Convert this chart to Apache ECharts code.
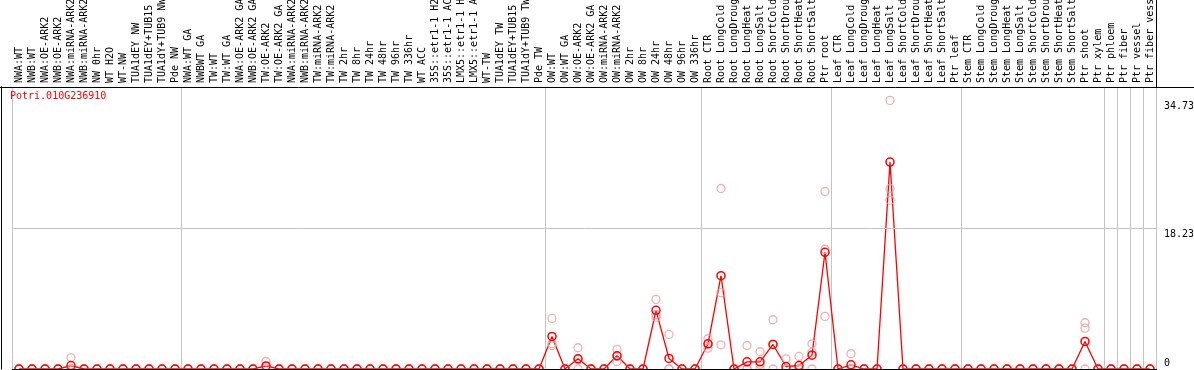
<!DOCTYPE html>
<html>
<head>
<meta charset="utf-8">
<script src="https://cdn.jsdelivr.net/npm/echarts@6/dist/echarts.min.js"></script>
<style>
  html, body { margin: 0; padding: 0; background: #fff; }
  #chart { width: 1194px; height: 370px; }
</style>
</head>
<body>
<div id="chart"></div>
<script>
// sample labels, one array per block of the plot (a separator line starts each block)
const nwLabels = ['NWA:WT', 'NWB:WT', 'NWA:OE-ARK2', 'NWB:OE-ARK2', 'NWA:miRNA-ARK2', 'NWB:miRNA-ARK2',
  'NW 0hr', 'WT H2O', 'WT-NW', 'TUA1dEY NW', 'TUA1dEY+TUB15 NW', 'TUA1dY+TUB9 NW', 'Pde NW']
const twLabels = ['NWA:WT GA', 'NWBWT GA', 'TW:WT', 'TW:WT GA', 'NWA:OE-ARK2 GA', 'NWB:OE-ARK2 GA',
  'TW:OE-ARK2', 'TW:OE-ARK2 GA', 'NWA:miRNA-ARK2', 'NWB:miRNA-ARK2', 'TW:miRNA-ARK2', 'TW:miRNA-ARK2',
  'TW 2hr', 'TW 8hr', 'TW 24hr', 'TW 48hr', 'TW 96hr', 'TW 336hr', 'WT ACC',
  '35S::etr1-1 H2', '35S::etr1-1 AC', 'LMX5::etr1-1 H', 'LMX5::etr1-1 A',
  'WT-TW', 'TUA1dEY TW', 'TUA1dEY+TUB15 TW', 'TUA1dY+TUB9 TW', 'Pde TW']
const owLabels = ['OW:WT', 'OW:WT GA', 'OW:OE-ARK2', 'OW:OE-ARK2 GA', 'OW:miRNA-ARK2', 'OW:miRNA-ARK2',
  'OW 2hr', 'OW 8hr', 'OW 24hr', 'OW 48hr', 'OW 96hr', 'OW 336hr']
const rootLabels = ['Root CTR', 'Root LongCold', 'Root LongDroug', 'Root LongHeat', 'Root LongSalt',
  'Root ShortCold', 'Root ShortDrou', 'Root ShortHeat', 'Root ShortSalt', 'Ptr root']
const leafLabels = ['Leaf CTR', 'Leaf LongCold', 'Leaf LongDroug', 'Leaf LongHeat', 'Leaf LongSalt',
  'Leaf ShortCold', 'Leaf ShortDrou', 'Leaf ShortHeat', 'Leaf ShortSalt', 'Ptr leaf']
const stemLabels = ['Stem CTR', 'Stem LongCold', 'Stem LongDroug', 'Stem LongHeat', 'Stem LongSalt',
  'Stem ShortCold', 'Stem ShortDrou', 'Stem ShortHeat', 'Stem ShortSalt', 'Ptr shoot', 'Ptr xylem']
const tissueLabels = [['Ptr phloem'], ['Ptr fiber'], ['Ptr vessel'], ['Ptr fiber vess']]

const geneId = 'Potri.010G236910'

// mean expression per sample
const meanExpr = [
  0, 0, 0, 0, 0.45, 0, 0, 0, 0, 0, 0, 0, 0,
  0, 0, 0, 0, 0, 0, 0.4, 0, 0, 0, 0, 0, 0, 0, 0, 0, 0, 0, 0, 0, 0, 0, 0, 0, 0, 0, 0, 0,
  4.21, 0, 1.32, 0, 0, 1.71, 0, 0, 7.58, 1.36, 0, 0,
  3.26, 12.07, 0, 0.93, 0.93, 3.17, 0.32, 0.45, 1.79, 15.09,
  0, 0.54, 0, 0, 26.75, 0, 0, 0, 0, 0,
  0, 0, 0, 0, 0, 0, 0, 0, 0, 3.56, 0,
  0, 0, 0, 0
]

// single replicates (pale circles)
const rep1 = [
  0, 0, 0, 0, 1.45, 0, 0, 0, 0, 0, 0, 0, 0,
  0, 0, 0, 0, 0, 0, 0.97, 0, 0, 0, 0, 0, 0, 0, 0, 0, 0, 0, 0, 0, 0, 0, 0, 0, 0, 0, 0, 0,
  6.54, 0, 2.75, 0, 0, 2.53, 0, 0, 9.0, 4.47, 0, 0,
  3.91, 23.34, 0, 3.04, 2.23, 6.37, 1.32, 1.62, 3.26, 22.95,
  0, 1.97, 0, 0, 34.73, 0, 0, 0, 0, 0,
  0, 0, 0, 0, 0, 0, 0, 0, 0, 5.98, 0,
  0, 0, 0, 0
]
const rep2 = [
  0, 0, 0, 0, 0, 0, 0, 0, 0, 0, 0, 0, 0,
  0, 0, 0, 0, 0, 0, 0.3, 0, 0, 0, 0, 0, 0, 0, 0, 0, 0, 0, 0, 0, 0, 0, 0, 0, 0, 0, 0, 0,
  3.26, 0, 1.2, 0, 0, 0.97, 0, 0, 7.02, 0, 0, 0,
  3.2, 9.87, 0, 0, 0.6, 3.2, 0, 0, 2.18, 15.48,
  0, 0, 0, 0, 23.34, 0, 0, 0, 0, 0,
  0, 0, 0, 0, 0, 0, 0, 0, 0, 5.28, 0,
  0, 0, 0, 0
]
const rep3 = [
  0, 0, 0, 0, 0, 0, 0, 0, 0, 0, 0, 0, 0,
  0, 0, 0, 0, 0, 0, 0, 0, 0, 0, 0, 0, 0, 0, 0, 0, 0, 0, 0, 0, 0, 0, 0, 0, 0, 0, 0, 0,
  3.04, 0, 0, 0, 0, 1.65, 0, 0, 6.7, 0, 0, 0,
  2.69, 3.13, 0, 0, 0, 0, 0, 0, 0, 6.8,
  0, 0, 0, 0, 21.83, 0, 0, 0, 0, 0,
  0, 0, 0, 0, 0, 0, 0, 0, 0, 0, 0,
  0, 0, 0, 0
]

// value axis
const yMax = 36.46
const yTicks = [0, 18.23, 34.73]
const yGrid = [18.23]

const FONT = 'DejaVu Sans Mono'
const SEP = '#c4c4c4'

const labelGroups = [nwLabels, twLabels, owLabels, rootLabels, leafLabels, stemLabels, ...tissueLabels]
const categories = labelGroups.flat()
const groupStarts = []
let acc = 0
labelGroups.forEach(g => { groupStarts.push(acc); acc += g.length })
const isGroupStart = (i) => groupStarts.indexOf(i) !== -1

const repPoints = []
;[rep1, rep2, rep3].forEach(r => r.forEach((v, i) => repPoints.push([i, v])))

const chart = echarts.init(document.getElementById('chart'))

const option = {
  animation: false,
  backgroundColor: '#ffffff',
  title: {
    text: geneId,
    left: 10,
    top: 91,
    padding: 0,
    textStyle: { color: '#ff0000', fontFamily: FONT, fontSize: 10, fontWeight: 'normal' }
  },
  grid: { left: 12.5, right: 37.5, top: 87, bottom: 1, containLabel: false, outerBoundsMode: 'none' },
  xAxis: [
    {
      type: 'category',
      data: categories,
      position: 'bottom',
      boundaryGap: true,
      z: 3,
      axisLine: { show: true, lineStyle: { color: '#000', width: 1 } },
      axisTick: { show: false },
      axisLabel: { show: false },
      splitLine: { show: false }
    },
    {
      type: 'category',
      data: categories,
      position: 'top',
      boundaryGap: true,
      axisLine: { show: true, lineStyle: { color: '#000', width: 1 } },
      axisTick: { show: true, interval: isGroupStart, length: 87, inside: false, lineStyle: { color: SEP, width: 1 } },
      axisLabel: { interval: 0, rotate: 90, margin: 4, color: '#000', fontFamily: FONT, fontSize: 10 },
      splitLine: { show: true, interval: isGroupStart, lineStyle: { color: SEP, width: 1, type: 'solid' } }
    }
  ],
  yAxis: [
    {
      type: 'value',
      position: 'right',
      min: 0,
      max: yMax,
      axisLine: { show: false },
      axisTick: { show: false },
      splitLine: { show: false },
      axisLabel: {
        customValues: yTicks,
        margin: 7.5,
        color: '#000',
        fontFamily: FONT,
        fontSize: 10,
        formatter: v => (v === 0 ? '{lo|0}' : '{hi|' + v + '}'),
        rich: {
          lo: { fontFamily: FONT, fontSize: 10, lineHeight: 12, color: '#000', padding: [0, 0, 12, 0] },
          hi: { fontFamily: FONT, fontSize: 10, lineHeight: 12, color: '#000', padding: [12, 0, 0, 0] }
        }
      }
    },
    {
      type: 'value',
      position: 'left',
      offset: 11.5,
      min: 0,
      max: yMax,
      axisLine: { show: true, lineStyle: { color: '#000', width: 1 } },
      axisTick: { show: false },
      axisLabel: { show: false },
      splitLine: { show: false }
    }
  ],
  series: [
    {
      type: 'scatter',
      name: 'replicates',
      xAxisIndex: 0,
      yAxisIndex: 0,
      data: repPoints,
      symbol: 'circle',
      symbolSize: 8,
      itemStyle: { color: 'rgba(0,0,0,0)', borderColor: '#f09a9a', borderWidth: 1.3 },
      z: 2
    },
    {
      type: 'line',
      name: 'mean',
      xAxisIndex: 0,
      yAxisIndex: 0,
      data: meanExpr,
      symbol: 'circle',
      symbolSize: 8,
      showSymbol: true,
      showAllSymbol: true,
      lineStyle: { color: '#ff0000', width: 1.3 },
      itemStyle: { color: 'rgba(0,0,0,0)', borderColor: '#ff0000', borderWidth: 1.5 },
      z: 2,
      markLine: {
        silent: true,
        symbol: ['none', 'none'],
        label: { show: false },
        lineStyle: { color: SEP, width: 1, type: 'solid' },
        data: yGrid.map(v => ({ yAxis: v }))
      }
    }
  ],
  // frame pieces outside the plot grid
  graphic: [
    { type: 'line', silent: true, z: 10, shape: { x1: 0, y1: 87.5, x2: 1194, y2: 87.5 }, style: { stroke: '#000', lineWidth: 1 } },
    { type: 'line', silent: true, z: 10, shape: { x1: 1156.5, y1: 0, x2: 1156.5, y2: 87 }, style: { stroke: '#000', lineWidth: 1 } }
  ]
}

chart.setOption(option)
</script>
</body>
</html>
